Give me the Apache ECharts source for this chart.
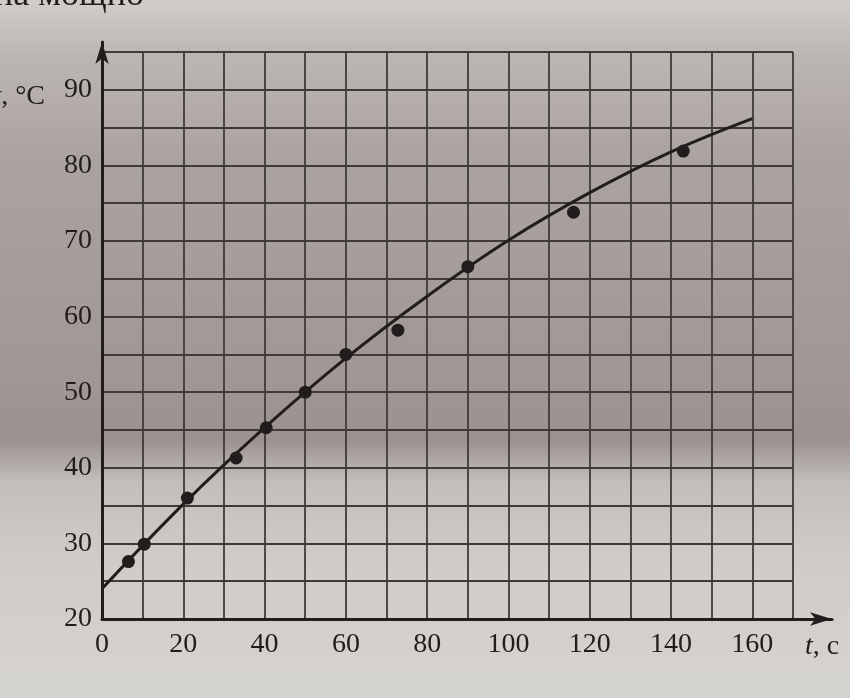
<!DOCTYPE html>
<html>
<head>
<meta charset="utf-8">
<script src="https://cdn.jsdelivr.net/npm/echarts@6/dist/echarts.min.js"></script>
<style>
  html, body { margin: 0; padding: 0; }
  #main { width: 850px; height: 698px; }
</style>
</head>
<body>
<div id="main"></div>
<script>
// measured points, t in seconds, temperature in °C
var timeSec = [6.5, 10.4, 21, 33, 40.4, 50, 60, 72.8, 90, 116, 143];
var tempC = [27.6, 29.9, 36, 41.3, 45.3, 50, 55, 58.2, 66.6, 73.8, 81.9];

// the drawn smooth curve
var curveTime = [0, 20, 40, 60, 80, 100, 120, 140, 160];
var curveTemp = [24, 35.2, 45.3, 54.5, 62.7, 70.1, 76.4, 81.8, 86.2];

var xLabelStep = 20;
var yLabelStep = 10;

var chart = echarts.init(document.getElementById('main'));
var serif = '"Liberation Serif", "DejaVu Serif", serif';
var ink = '#221d1d';
var gridInk = '#3f3a39';

function pairs(xs, ys) {
    return xs.map(function (x, i) { return [x, ys[i]]; });
}

var option = {
    animation: false,
    backgroundColor: {
        type: 'linear', x: 0, y: 0, x2: 0, y2: 1,
        colorStops: [
            { offset: 0, color: '#d0cdca' },
            { offset: 0.08, color: '#bcb6b3' },
            { offset: 0.22, color: '#aba3a1' },
            { offset: 0.55, color: '#a09794' },
            { offset: 0.63, color: '#9b918e' },
            { offset: 0.69, color: '#c2beba' },
            { offset: 0.8, color: '#cfccc8' },
            { offset: 1, color: '#d6d4d0' }
        ]
    },
    graphic: [{
        type: 'text', left: -6, top: -22,
        style: { text: 'на мощно', font: '36px "Liberation Serif"', fill: ink }
    }],
    grid: [
        { left: 102, right: 57, top: 52, bottom: 79, outerBoundsMode: 'none' },
        { left: 102, right: 18, top: 42, bottom: 79, outerBoundsMode: 'none' }
    ],
    xAxis: [{
        type: 'value', gridIndex: 0, min: 0, max: 170, interval: 10,
        name: '{i|t}, c', nameLocation: 'end', nameGap: 12,
        nameTextStyle: {
            fontFamily: serif, fontSize: 28, color: ink,
            verticalAlign: 'top', padding: [14, 0, 0, 0],
            rich: { i: { fontFamily: serif, fontSize: 28, fontStyle: 'italic', color: ink } }
        },
        axisLine: { show: false },
        axisTick: { show: false },
        axisLabel: {
            fontFamily: serif, fontSize: 28, color: ink, margin: 12,
            formatter: function (v) { return v % xLabelStep === 0 ? String(v) : ''; }
        },
        splitLine: { show: true, lineStyle: { color: gridInk, width: 1.8 } }
    }, {
        type: 'value', gridIndex: 1, min: 0, max: 1,
        axisLine: { show: true, symbol: ['none', 'arrow'], symbolSize: [10, 22], lineStyle: { color: ink, width: 3 } },
        axisTick: { show: false }, axisLabel: { show: false }, splitLine: { show: false }
    }],
    yAxis: [{
        type: 'value', gridIndex: 0, min: 20, max: 95, interval: 5,
        name: '{i|t}, °C', nameLocation: 'end', nameGap: -45,
        nameTextStyle: {
            fontFamily: serif, fontSize: 28, color: ink,
            align: 'right', verticalAlign: 'middle', padding: [0, 57, 0, 0],
            rich: { i: { fontFamily: serif, fontSize: 28, fontStyle: 'italic', color: ink } }
        },
        axisLine: { show: false },
        axisTick: { show: false },
        axisLabel: {
            fontFamily: serif, fontSize: 28, color: ink, margin: 10,
            formatter: function (v) { return v % yLabelStep === 0 ? String(v) : ''; }
        },
        splitLine: { show: true, lineStyle: { color: gridInk, width: 1.8 } }
    }, {
        type: 'value', gridIndex: 1, min: 0, max: 1,
        axisLine: { show: true, symbol: ['none', 'arrow'], symbolSize: [10, 22], lineStyle: { color: ink, width: 3 } },
        axisTick: { show: false }, axisLabel: { show: false }, splitLine: { show: false }
    }],
    series: [{
        type: 'line', xAxisIndex: 0, yAxisIndex: 0,
        data: pairs(curveTime, curveTemp),
        smooth: 0.4, showSymbol: false,
        lineStyle: { color: ink, width: 3 },
        z: 2
    }, {
        type: 'scatter', xAxisIndex: 0, yAxisIndex: 0,
        data: pairs(timeSec, tempC),
        symbolSize: 13,
        itemStyle: { color: ink, opacity: 1 },
        z: 3
    }]
};

chart.setOption(option);
</script>
</body>
</html>
